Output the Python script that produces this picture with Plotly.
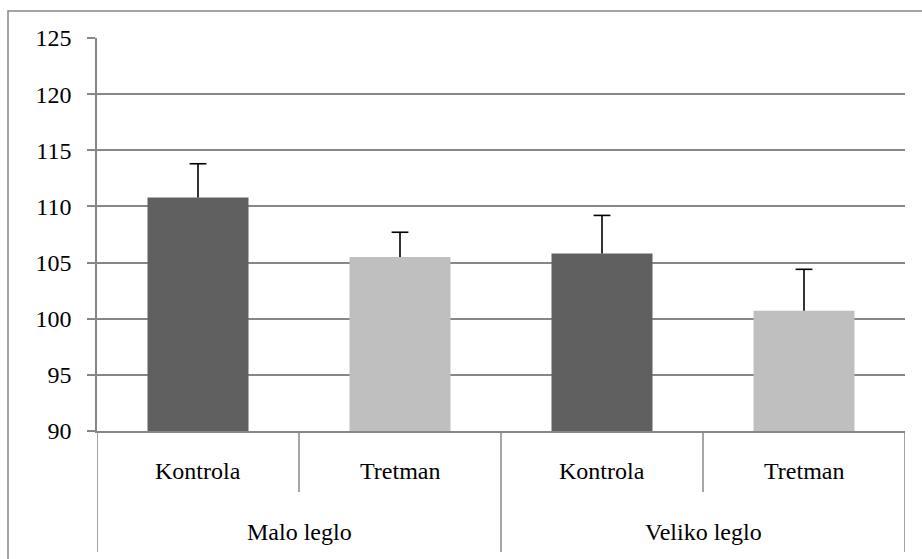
import plotly.graph_objects as go

# Group / treatment labels and measured means with their errors
groups = ["Malo leglo", "Malo leglo", "Veliko leglo", "Veliko leglo"]
treatments = ["Kontrola", "Tretman", "Kontrola", "Tretman"]
means = [110.8, 105.5, 105.8, 100.7]
errors = [3.0, 2.2, 3.4, 3.7]
bar_colors = ["#606060", "#bfbfbf", "#606060", "#bfbfbf"]
y_ticks = [90, 95, 100, 105, 110, 115, 120, 125]

FONT = "Liberation Serif, DejaVu Serif, serif"
FSIZE = 24
GRID = "#878787"

W, H = 922, 559
L, R, T, B = 97, 17, 38, 128
plot_w = W - L - R
plot_h = H - T - B

def px_x(px):
    return (px - L) / plot_w

def px_y(py):
    return (H - B - py) / plot_h

xs = list(range(len(means)))

fig = go.Figure()
# bars with an upward-only error whisker (no caps here, caps added below)
fig.add_trace(go.Bar(
    x=xs,
    y=[m - y_ticks[0] for m in means],
    base=y_ticks[0],
    marker=dict(color=bar_colors, line=dict(width=0)),
    error_y=dict(type="data", symmetric=False, array=errors,
                 arrayminus=[0] * len(errors), color="black",
                 thickness=1.6, width=0),
    hoverinfo="skip",
))
# whisker caps at mean + error
fig.add_trace(go.Scatter(
    x=xs,
    y=[m + e for m, e in zip(means, errors)],
    mode="markers",
    marker=dict(symbol="line-ew-open", size=12, color="black",
                line=dict(color="black", width=1.6)),
    hoverinfo="skip",
))

shapes = []
# outer chart frame (only its top and left edges fall inside the page)
shapes.append(dict(type="rect", xref="paper", yref="paper",
                   x0=px_x(8), x1=px_x(940), y0=px_y(575), y1=px_y(11),
                   line=dict(color=GRID, width=1.5), layer="below"))

# category dividers: short ones between treatments, long ones between groups
n = len(xs)
for i in range(n + 1):
    xb = i - 0.5
    is_group_edge = (i == 0 or i == n or groups[i - 1] != groups[i])
    y_end = px_y(552) if is_group_edge else px_y(492)
    shapes.append(dict(type="line", xref="x", yref="paper",
                       x0=xb, x1=xb, y0=0, y1=y_end,
                       line=dict(color=GRID, width=1.5)))

annotations = []
for x, t in zip(xs, treatments):
    annotations.append(dict(x=x, y=px_y(471), xref="x", yref="paper",
                            xanchor="center", yanchor="middle",
                            text=t, showarrow=False,
                            font=dict(family=FONT, size=FSIZE, color="black")))

# group labels centred under their treatments
seen = []
for g in groups:
    if g not in seen:
        seen.append(g)
for g in seen:
    idx = [i for i, gg in enumerate(groups) if gg == g]
    cx = sum(idx) / len(idx)
    annotations.append(dict(x=cx, y=px_y(532), xref="x", yref="paper",
                            xanchor="center", yanchor="middle",
                            text=g, showarrow=False,
                            font=dict(family=FONT, size=FSIZE, color="black")))

fig.update_layout(
    width=W, height=H,
    margin=dict(l=L, r=R, t=T, b=B, pad=0),
    paper_bgcolor="white", plot_bgcolor="white",
    showlegend=False,
    bargap=0.5,
    font=dict(family=FONT, size=FSIZE),
    shapes=shapes,
    annotations=annotations,
    xaxis=dict(range=[-0.5, n - 0.5], showticklabels=False, showgrid=False,
               zeroline=False, showline=True, linecolor=GRID, linewidth=1.5,
               ticks=""),
    yaxis=dict(range=[y_ticks[0], y_ticks[-1]], tickvals=y_ticks,
               showgrid=True, gridcolor=GRID, gridwidth=1.5,
               zeroline=False, showline=True, linecolor=GRID, linewidth=1.5,
               ticks="outside", ticklen=8, tickcolor=GRID, tickwidth=1.5,
               ticklabelstandoff=11,
               tickfont=dict(family=FONT, size=FSIZE, color="black")),
)

fig.write_html("out.html")
